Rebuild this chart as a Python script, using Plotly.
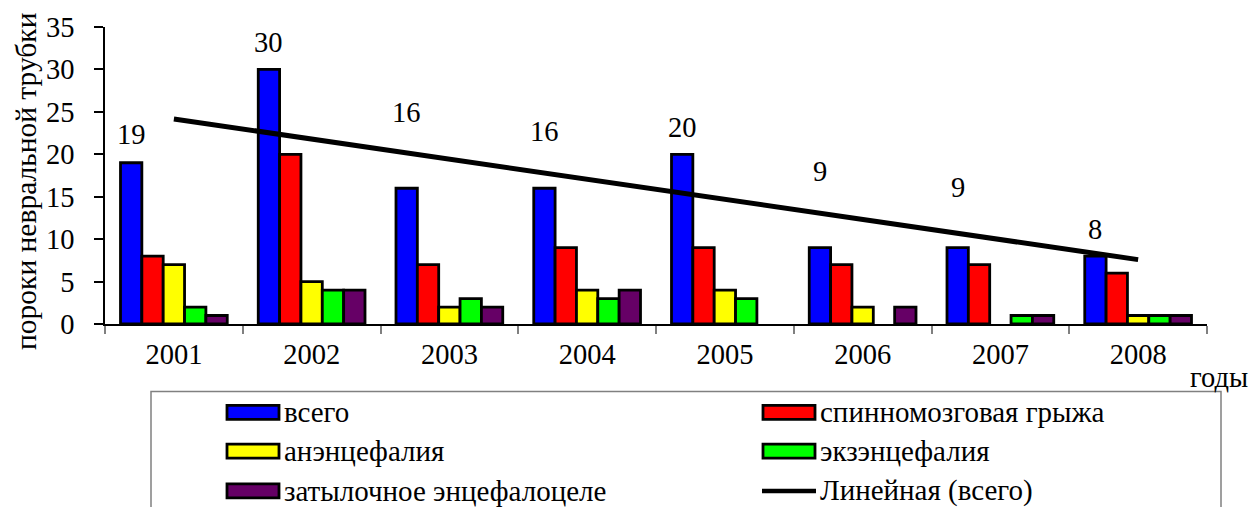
import numpy as np
import plotly.graph_objects as go

# ---- data ----
years = ["2001", "2002", "2003", "2004", "2005", "2006", "2007", "2008"]
total = [19, 30, 16, 16, 20, 9, 9, 8]               # всего
spina_bifida = [8, 20, 7, 9, 9, 7, 7, 6]            # спинномозговая грыжа
anencephaly = [7, 5, 2, 4, 4, 2, 0, 1]              # анэнцефалия
exencephaly = [2, 4, 3, 3, 3, 0, 1, 1]              # экзэнцефалия
encephalocele = [1, 4, 2, 4, 0, 2, 1, 1]            # затылочное энцефалоцеле

series_names = ["всего", "спинномозговая грыжа", "анэнцефалия",
                "экзэнцефалия", "затылочное энцефалоцеле"]
trend_name = "Линейная (всего)"
y_ticks = [0, 5, 10, 15, 20, 25, 30, 35]

# ---- styling ----
colors = ["#0000FF", "#FF0000", "#FFFF00", "#00FF00", "#660066"]
FONT = '"Liberation Serif", "Times New Roman", Times, serif'
FS = 28.5
FS_LEG = 29
W, H = 1252, 507
ML, MR, MT, MB = 105, 45, 25, 183
PW, PH = W - ML - MR, H - MT - MB

def px_x(px):
    return (px - ML) / PW

def px_y(py):
    return (H - MB - py) / PH

fig = go.Figure()

for name, vals, col in zip(series_names,
                           [total, spina_bifida, anencephaly, exencephaly, encephalocele],
                           colors):
    fig.add_trace(go.Bar(
        x=years, y=vals, name=name, showlegend=False,
        marker=dict(color=col,
                    line=dict(color="black", width=[2.8 if v else 0 for v in vals])),
    ))

# linear trend of the totals
idx = np.arange(1, len(total) + 1)
slope, intercept = np.polyfit(idx, total, 1)
trend = slope * idx + intercept
fig.add_trace(go.Scatter(
    x=years, y=trend, mode="lines", name=trend_name, showlegend=False,
    line=dict(color="black", width=5),
))

# value labels over the "всего" bars
label_lift = [28, 27, 76, 57, 27, 76, 60, 27]
n_series = len(series_names)
cat_px = PW / len(years)
bar_px = cat_px * (1 - 0.225) / n_series
blue_shift = -(n_series - 1) / 2 * bar_px
annotations = []
for i, (v, lift) in enumerate(zip(total, label_lift)):
    annotations.append(dict(
        x=i, y=v, xref="x", yref="y", text=str(v), showarrow=False,
        xanchor="center", yanchor="middle", xshift=blue_shift, yshift=lift,
        font=dict(family=FONT, size=FS, color="black"),
    ))

# y-axis title
annotations.append(dict(
    x=px_x(26), y=px_y(180), xref="paper", yref="paper",
    text="пороки невральной трубки", textangle=-90, showarrow=False,
    xanchor="center", yanchor="middle",
    font=dict(family=FONT, size=29.5, color="black"),
))
# x-axis title
annotations.append(dict(
    x=px_x(1250), y=px_y(378), xref="paper", yref="paper",
    text="годы", showarrow=False, xanchor="right", yanchor="middle",
    font=dict(family=FONT, size=FS, color="black"),
))

# ---- legend drawn as a boxed two-column key ----
shapes = [dict(
    type="rect", xref="paper", yref="paper",
    x0=px_x(151), x1=px_x(1221), y0=px_y(392), y1=px_y(530),
    line=dict(color="#808080", width=1.5), fillcolor="rgba(0,0,0,0)", layer="below",
)]
legend_entries = list(zip(series_names, colors)) + [(trend_name, None)]
col_x = [227, 763]
row_y = [413, 452, 492]
for i, (name, col) in enumerate(legend_entries):
    cx = col_x[i % 2]
    cy = row_y[i // 2]
    if col is None:
        shapes.append(dict(
            type="line", xref="paper", yref="paper",
            x0=px_x(cx - 1), x1=px_x(cx + 53), y0=px_y(cy), y1=px_y(cy),
            line=dict(color="black", width=4.5),
        ))
    else:
        shapes.append(dict(
            type="rect", xref="paper", yref="paper",
            x0=px_x(cx), x1=px_x(cx + 52), y0=px_y(cy + 7), y1=px_y(cy - 7),
            fillcolor=col, line=dict(color="black", width=2.8),
        ))
    annotations.append(dict(
        x=px_x(cx + 55), y=px_y(cy), xref="paper", yref="paper",
        text=name, showarrow=False, xanchor="left", yanchor="middle",
        font=dict(family=FONT, size=FS_LEG, color="black"),
    ))

fig.update_layout(
    width=W, height=H,
    margin=dict(l=ML, r=MR, t=MT, b=MB, pad=0),
    paper_bgcolor="white", plot_bgcolor="white",
    barmode="group", bargap=0.225, bargroupgap=0,
    showlegend=False,
    font=dict(family=FONT, size=FS, color="black"),
    annotations=annotations, shapes=shapes,
    xaxis=dict(
        type="category", range=[-0.5, len(years) - 0.5],
        showline=True, linecolor="black", linewidth=1.5,
        ticks="outside", tickson="boundaries", ticklen=8, tickcolor="#808080",
        tickwidth=1.5, showgrid=False, zeroline=False,
        tickfont=dict(family=FONT, size=FS, color="black"),
        ticklabelstandoff=4, tickangle=0,
    ),
    yaxis=dict(
        range=[0, 35], tickvals=y_ticks, showline=True, linecolor="black",
        linewidth=1.5, ticks="outside", ticklen=9, tickcolor="black", tickwidth=1.5,
        showgrid=False, zeroline=False,
        tickfont=dict(family=FONT, size=FS, color="black"),
        ticklabelstandoff=14,
    ),
)

fig.write_html("out.html")
